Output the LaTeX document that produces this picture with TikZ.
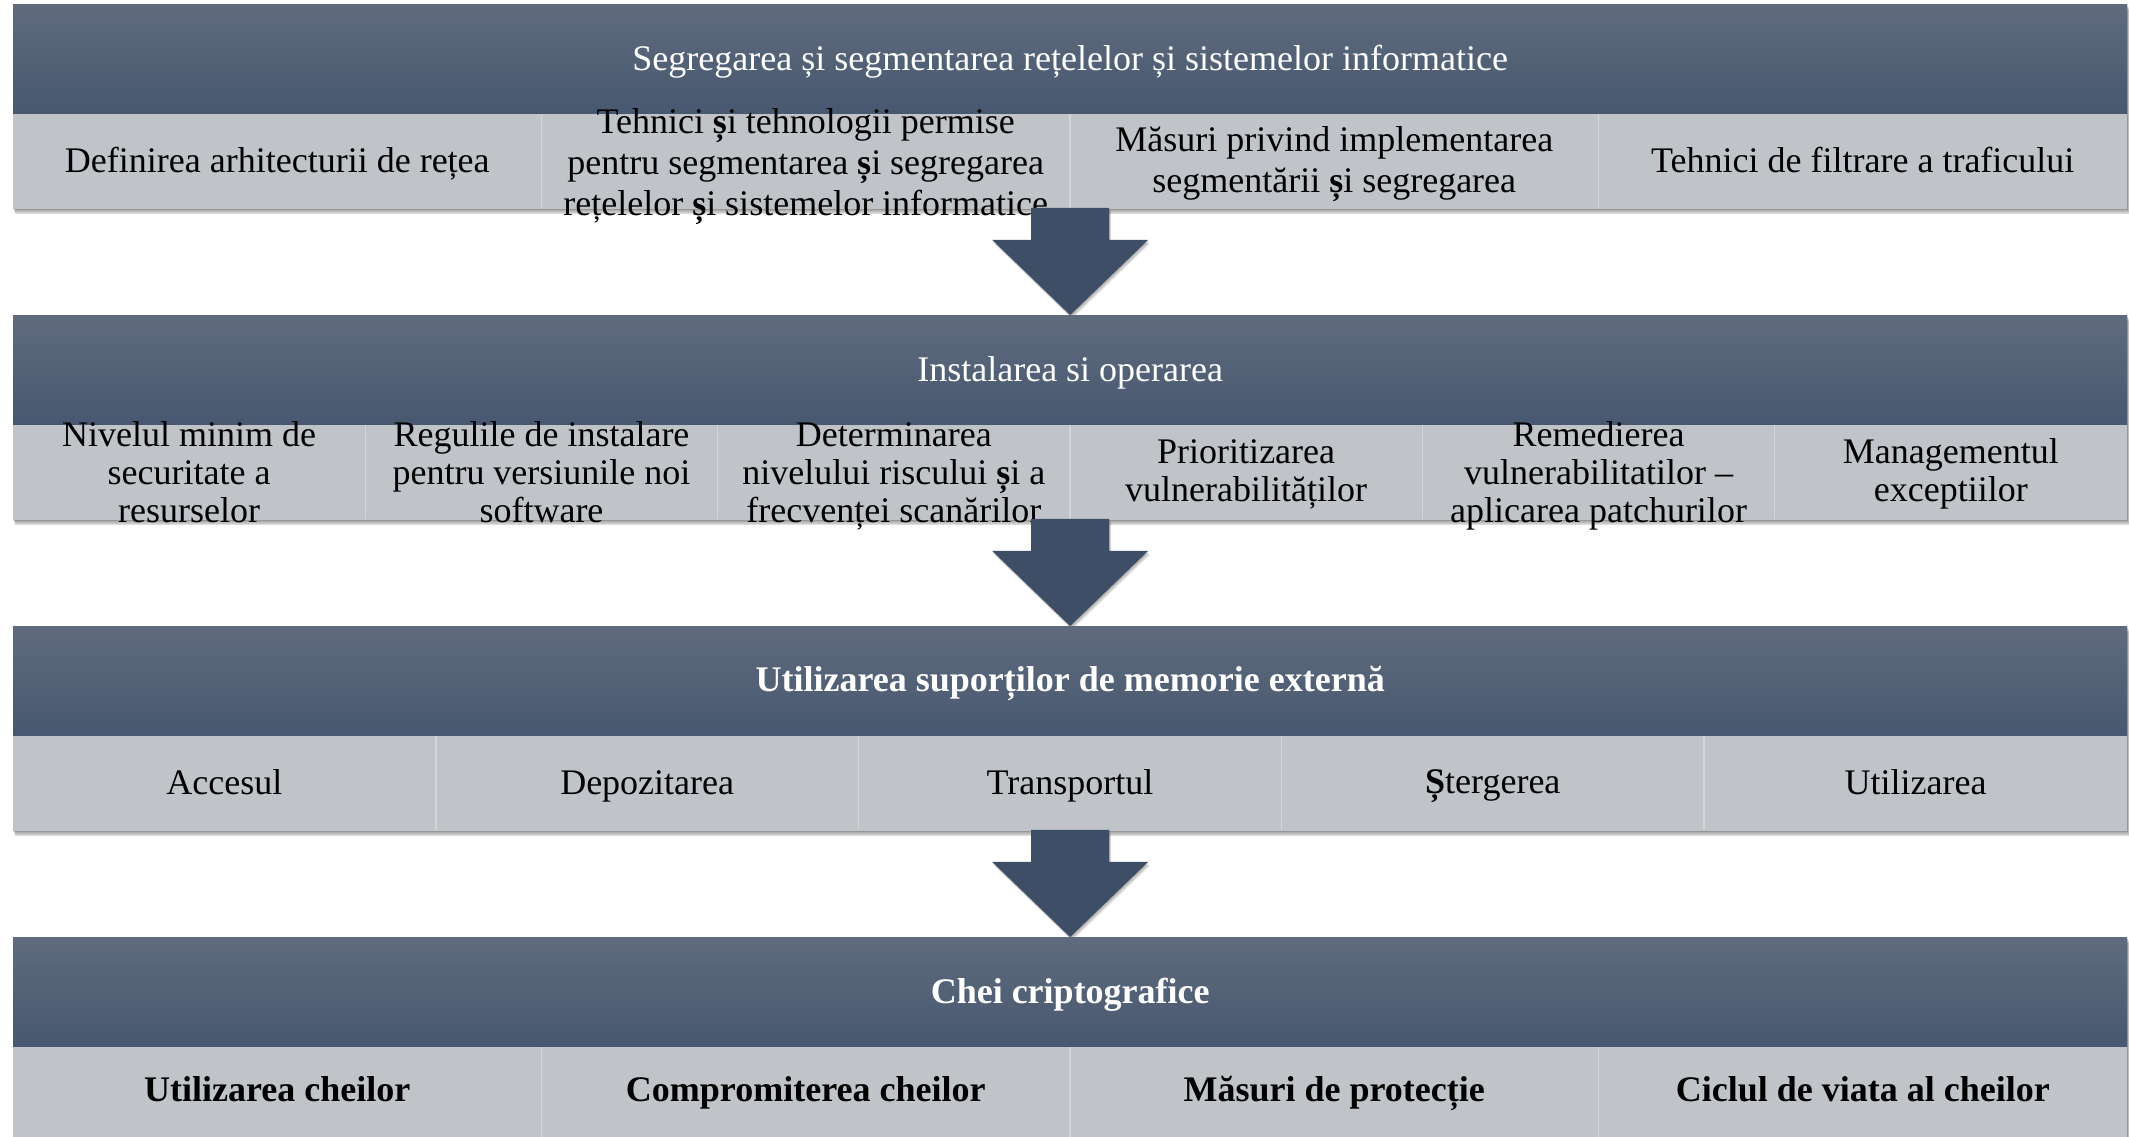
\documentclass[tikz,border=0pt]{standalone}
\usepackage{fontspec}
\setmainfont{Liberation Serif}
\usetikzlibrary{calc,backgrounds}

\definecolor{hdtop}{HTML}{606B7D}
\definecolor{hdbot}{HTML}{475870}
\definecolor{subgray}{HTML}{C0C3C8}
\definecolor{divline}{HTML}{D3D5D9}
\definecolor{arrowblue}{HTML}{3E4E67}

\newcommand\hfont{\fontsize{36}{41}\selectfont}
\newcommand\cfontA{\fontsize{36}{41}\selectfont}
\newcommand\cfontB{\fontsize{36}{38}\selectfont}
\newcommand\bsh{{\bfseries ș}}

\tikzset{
  evenlines/.style={execute at begin node={\vphantom{Ăg}}, execute at end node={\vphantom{Ăg}}},
  hdr/.style={anchor=north west, minimum width=2114pt, minimum height=109pt,
    inner sep=0pt, top color=hdtop, bottom color=hdbot, text=white, font=\hfont, evenlines},
  subrow/.style={anchor=north west, minimum width=2114pt, minimum height=95pt,
    inner sep=0pt, fill=subgray},
  cellA/.style={align=center, inner sep=0pt, font=\cfontA, evenlines},
  cellB/.style={align=center, inner sep=0pt, font=\cfontB, evenlines},
  divider/.style={draw=divline, line width=1.5pt},
  blockarrow/.style={fill=arrowblue},
  softshadow/.style={fill=black, opacity=0.07},
}

% block arrow from the bottom of one band (#2) to the top of the next (#3),
% drawn in style #1 and moved by (#4,#5)
\newcommand\arrowshape[5]{%
  \path[#1] ($(#2.south)+(-39+#4,-1+#5)$) -- ($(#2.south)+(-39+#4,31+#5)$)
    -- ($(#2.south)+(-78+#4,31+#5)$) -- ($(#3.north)+(#4,#5)$) -- ($(#2.south)+(78+#4,31+#5)$)
    -- ($(#2.south)+(39+#4,31+#5)$) -- ($(#2.south)+(39+#4,-1+#5)$) -- cycle;}
\newcommand\bandarrow[2]{\arrowshape{blockarrow}{#1}{#2}{0}{0}}

\begin{document}
\begin{tikzpicture}[x=1pt,y=-1pt]
\useasboundingbox (0,0) rectangle (2129,1136);

% ---------- band 1 ----------
\node[hdr] (h1) at (13,4) {Segregarea și segmentarea rețelelor și sistemelor informatice};
\node[subrow] (s1) at (h1.south west) {};
\foreach \k in {1,2,3}
  \draw[divider] ($(s1.north west)+(\k*528.5,1)$) -- ($(s1.south west)+(\k*528.5,-1)$);
\node[cellA] (t11) at ($(s1.west)+(264.25,0)$) {Definirea arhitecturii de rețea};
\node[cellA] (t12) at ($(s1.west)+(792.75,6)$) {Tehnici \bsh i tehnologii permise\\pentru segmentarea \bsh i segregarea\\rețelelor \bsh i sistemelor informatice};
\node[cellA] (t13) at ($(s1.west)+(1321.25,3)$) {Măsuri privind implementarea\\segmentării \bsh i segregarea};
\node[cellA] (t14) at ($(s1.west)+(1849.75,0)$) {Tehnici de filtrare a traficului};

% ---------- band 2 ----------
\node[hdr] (h2) at (13,315) {Instalarea si operarea};
\node[subrow] (s2) at (h2.south west) {};
\foreach \k in {1,...,5}
  \draw[divider] ($(s2.north west)+(\k*352.33,1)$) -- ($(s2.south west)+(\k*352.33,-1)$);
\node[cellB] (t21) at ($(s2.west)+(176.17,4)$) {Nivelul minim de\\securitate a\\resurselor};
\node[cellB] (t22) at ($(s2.west)+(528.5,4)$) {Regulile de instalare\\pentru versiunile noi\\software};
\node[cellB] (t23) at ($(s2.west)+(880.83,4)$) {Determinarea\\nivelului riscului \bsh i a\\frecvenței scanărilor};
\node[cellB] (t24) at ($(s2.west)+(1233.17,2)$) {Prioritizarea\\vulnerabilităților};
\node[cellB] (t25) at ($(s2.west)+(1585.5,4)$) {Remedierea\\vulnerabilitatilor –\\aplicarea patchurilor};
\node[cellB] (t26) at ($(s2.west)+(1937.83,2)$) {Managementul\\exceptiilor};

% ---------- band 3 ----------
\node[hdr, font=\hfont\bfseries] (h3) at (13,626) {Utilizarea suporților de memorie externă};
\node[subrow] (s3) at (h3.south west) {};
\foreach \k in {1,...,4}
  \draw[divider] ($(s3.north west)+(\k*422.8,1)$) -- ($(s3.south west)+(\k*422.8,-1)$);
\node[cellA] (t31) at ($(s3.west)+(211.4,0)$) {Accesul};
\node[cellA] (t32) at ($(s3.west)+(634.2,0)$) {Depozitarea};
\node[cellA] (t33) at ($(s3.west)+(1057,0)$) {Transportul};
\node[cellA] (t34) at ($(s3.west)+(1479.8,0)$) {{\bfseries Ș}tergerea};
\node[cellA] (t35) at ($(s3.west)+(1902.6,0)$) {Utilizarea};

% ---------- band 4 ----------
\node[hdr, font=\hfont\bfseries] (h4) at (13,937) {Chei criptografice};
\node[subrow] (s4) at (h4.south west) {};
\foreach \k in {1,2,3}
  \draw[divider] ($(s4.north west)+(\k*528.5,1)$) -- ($(s4.south west)+(\k*528.5,-1)$);
\node[cellA, font=\cfontA\bfseries] (t41) at ($(s4.west)+(264.25,-4)$) {Utilizarea cheilor};
\node[cellA, font=\cfontA\bfseries] (t42) at ($(s4.west)+(792.75,-4)$) {Compromiterea cheilor};
\node[cellA, font=\cfontA\bfseries] (t43) at ($(s4.west)+(1321.25,-4)$) {Măsuri de protecție};
\node[cellA, font=\cfontA\bfseries] (t44) at ($(s4.west)+(1849.75,-4)$) {Ciclul de viata al cheilor};

% ---------- arrows between the bands ----------
\bandarrow{s1}{h2}
\bandarrow{s2}{h3}
\bandarrow{s3}{h4}

% ---------- page background and soft shadows ----------
\begin{scope}[on background layer]
  \fill[white] (0,0) rectangle (2129,1136);
  \foreach \b/\s in {h1/s1,h2/s2,h3/s3,h4/s4}{
    \foreach \i in {1,...,7}{
      \fill[softshadow] ($(\b.north west)+(0.3*\i,0.8*\i)$) rectangle ($(\s.south east)+(0.3*\i,0.8*\i)$);
    }
  }
  \foreach \s/\h in {s1/h2,s2/h3,s3/h4}{
    \foreach \i in {1,...,5}{
      \arrowshape{softshadow}{\s}{\h}{0.4*\i}{0.8*\i}
    }
  }
\end{scope}
\end{tikzpicture}
\end{document}
